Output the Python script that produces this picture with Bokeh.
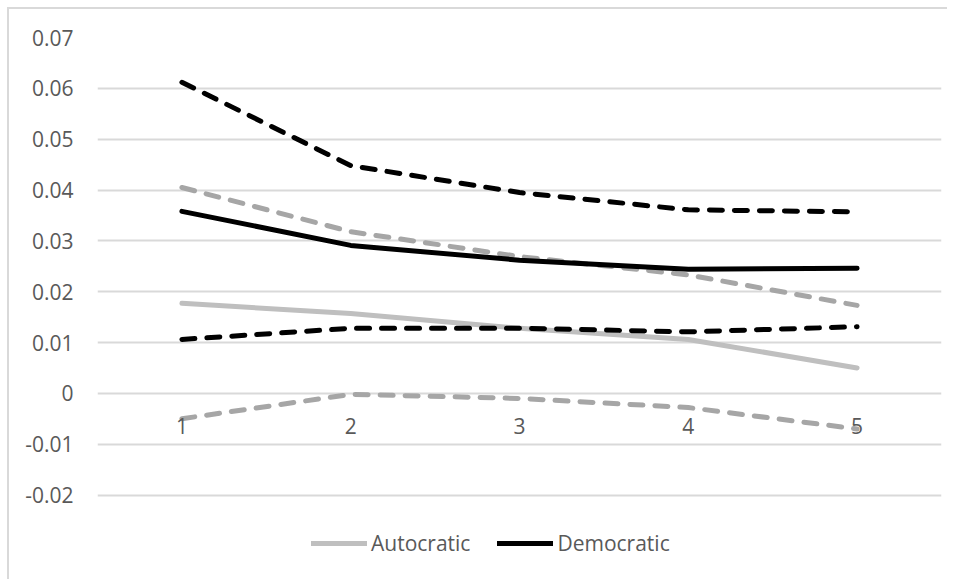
from bokeh.plotting import figure
from bokeh.models import Range1d, FixedTicker, Legend, LegendItem, ColumnDataSource
from bokeh.core.properties import value
from bokeh.embed import file_html
from bokeh.resources import INLINE

# ---- data ----
periods = [1, 2, 3, 4, 5]
period_labels = ["1", "2", "3", "4", "5"]

autocratic = [0.0177, 0.0157, 0.0128, 0.0106, 0.0050]
autocratic_upper = [0.0405, 0.0318, 0.0269, 0.0233, 0.0173]
autocratic_lower = [-0.0050, -0.0002, -0.0010, -0.0028, -0.0070]

democratic = [0.0358, 0.0291, 0.0262, 0.0244, 0.0246]
democratic_upper = [0.0612, 0.0448, 0.0395, 0.0361, 0.0357]
democratic_lower = [0.0106, 0.0128, 0.0128, 0.0121, 0.0131]

y_ticks = [-0.02, -0.01, 0.0, 0.01, 0.02, 0.03, 0.04, 0.05, 0.06, 0.07]
y_tick_labels = ["-0.02", "-0.01", "0", "0.01", "0.02", "0.03", "0.04", "0.05", "0.06", "0.07"]

FONT = "Open Sans"
FS = "21px"
TXT = "#595959"
GRAY_SOLID = "#bfbfbf"
GRAY_DASH = "#a6a6a6"
BLACK = "#000000"

# layout: plot area spans 0.07 .. -0.02 over ~457 px; the legend strip below it
# is kept inside the frame by extending the lower bound of the range
FIG_H = 572
TOP = 28
PX_PER_UNIT = 457.5 / 0.09
y_min = 0.07 - (FIG_H - TOP) / PX_PER_UNIT

p = figure(width=940, height=FIG_H, output_backend="svg", toolbar_location=None,
           x_range=Range1d(0.5, 5.5), y_range=Range1d(y_min, 0.07),
           min_border_left=88, min_border_right=8, min_border_top=TOP, min_border_bottom=0)
p.outline_line_color = None
p.background_fill_color = "white"
p.border_fill_color = "white"
p.styles = {"margin-left": "7px", "margin-top": "7px",
            "border-left": "2px solid #d9d9d9", "border-top": "2px solid #d9d9d9"}

p.xaxis.visible = False
p.xgrid.visible = False

p.yaxis.ticker = FixedTicker(ticks=y_ticks)
p.yaxis.major_label_overrides = {t: l for t, l in zip(y_ticks, y_tick_labels)}
p.yaxis.axis_line_color = None
p.yaxis.major_tick_line_color = None
p.yaxis.minor_tick_line_color = None
p.yaxis.major_tick_out = 0
p.yaxis.major_tick_in = 0
p.yaxis.major_label_standoff = 24
p.yaxis.major_label_text_font = FONT
p.yaxis.major_label_text_font_size = FS
p.yaxis.major_label_text_color = TXT

p.ygrid.ticker = FixedTicker(ticks=y_ticks)
p.ygrid.grid_line_color = "#d9d9d9"
p.ygrid.grid_line_width = 1.8

common = dict(line_join="round", line_cap="round")
dash = "13 12"
LW = 5

# Autocratic series first
r_aut = p.line(periods, autocratic, line_color=GRAY_SOLID, line_width=LW, **common)
p.line(periods, autocratic_upper, line_color=GRAY_DASH, line_width=LW, line_dash=dash, **common)
p.line(periods, autocratic_lower, line_color=GRAY_DASH, line_width=LW, line_dash=dash, **common)

# Democratic series
r_dem = p.line(periods, democratic, line_color=BLACK, line_width=LW, **common)
p.line(periods, democratic_upper, line_color=BLACK, line_width=LW, line_dash=dash, **common)
p.line(periods, democratic_lower, line_color=BLACK, line_width=LW, line_dash=dash, **common)

# category labels sitting under the zero line
lab_src = ColumnDataSource(dict(x=periods, y=[0.0] * len(periods), t=period_labels))
p.text(x="x", y="y", text="t", source=lab_src, text_font=value(FONT), text_font_size=FS,
       text_color=TXT, text_align="center", text_baseline="middle", y_offset=33)

legend = Legend(items=[LegendItem(label="Autocratic", renderers=[r_aut]),
                       LegendItem(label="Democratic", renderers=[r_dem])],
                orientation="horizontal", location=(214, 24))
legend.background_fill_alpha = 0
legend.border_line_color = None
legend.padding = 0
legend.margin = 0
legend.spacing = 27
legend.glyph_width = 56
legend.glyph_height = 24
legend.label_height = 24
legend.label_standoff = 4
legend.label_text_font = FONT
legend.label_text_font_size = FS
legend.label_text_color = TXT
p.add_layout(legend, "center")

open("out.html", "w").write(file_html(p, INLINE))
